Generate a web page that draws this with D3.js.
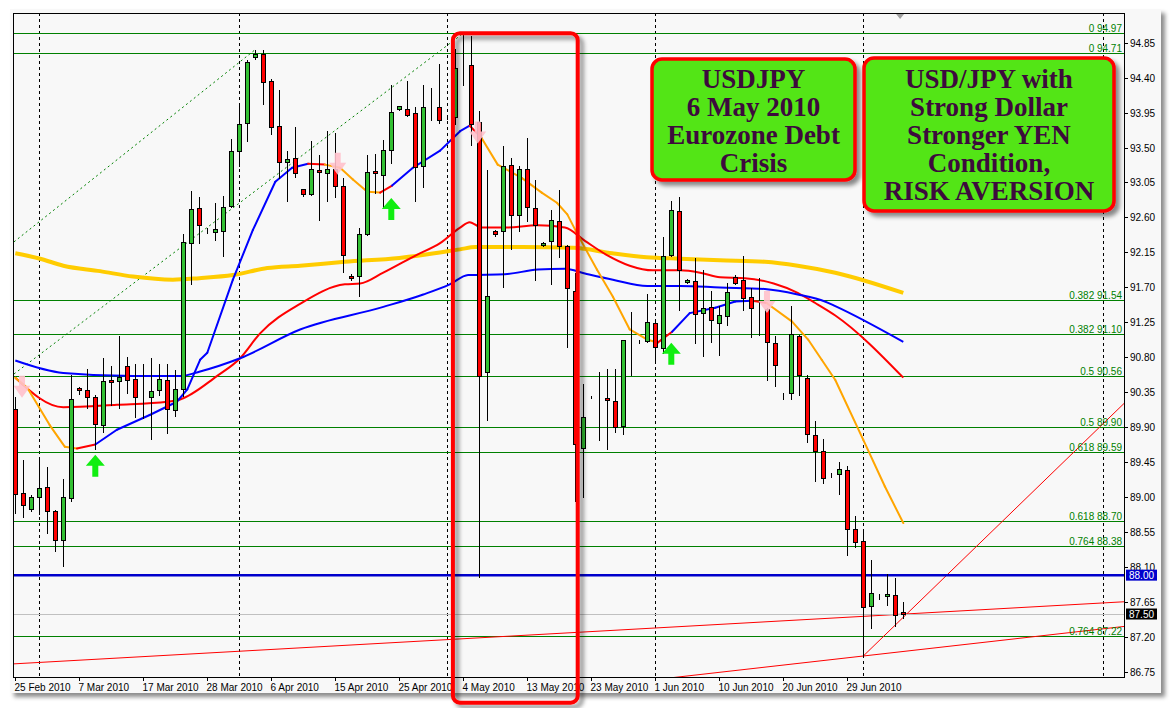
<!DOCTYPE html>
<html><head><meta charset="utf-8">
<script src="https://cdn.jsdelivr.net/npm/d3@7"></script>
<style>
html,body{margin:0;padding:0;background:#fff;}
svg{display:block;}
</style></head><body>
<svg id="chart" width="1173" height="708"></svg>
<script>
// ---------------- DATA ----------------
const xTickLabels = ["25 Feb 2010","7 Mar 2010","17 Mar 2010","28 Mar 2010","6 Apr 2010","15 Apr 2010","25 Apr 2010","4 May 2010","13 May 2010","23 May 2010","1 Jun 2010","10 Jun 2010","20 Jun 2010","29 Jun 2010"];
const xTickBars = [0,8,16,24,32,40,48,56,64,72,80,88,96,104];
const monthSepBars = [3,28,54,80,106,136];
const yTickLabels = ["94.85","94.40","93.95","93.50","93.05","92.60","92.15","91.70","91.25","90.80","90.35","89.90","89.45","89.00","88.55","88.10","87.65","87.20","86.75"];

const open = [90.14,89.06,88.85,89.01,89.14,88.82,88.45,88.99,90.41,90.38,
90.29,89.93,90.51,90.50,90.69,90.52,90.29,90.29,90.38,90.51,
90.12,90.39,92.27,92.72,92.43,92.41,92.43,92.75,93.45,93.81,
94.67,94.70,94.36,93.78,93.31,93.36,92.96,92.90,93.21,93.17,
93.23,93.00,91.85,91.85,92.39,93.20,93.15,93.47,93.99,94.00,
93.95,93.26,94.03,94.02,93.89,93.89,94.52,94.56,93.83,90.61,
92.43,92.42,93.27,92.63,93.22,92.72,92.24,92.30,92.55,92.23,
91.66,89.64,90.29,90.29,90.28,90.24,89.92,91.04,91.00,91.01,
91.24,90.92,92.12,92.68,91.77,91.78,91.37,91.45,91.24,91.33,
91.84,91.79,91.58,91.44,91.42,90.99,90.30,90.34,91.08,90.54,
89.80,89.60,89.32,89.30,89.35,88.59,88.44,87.60,87.73,87.73,
87.75,87.53];
const high = [90.29,89.48,89.03,89.51,89.39,88.84,89.24,90.58,90.42,90.65,
90.32,90.79,90.69,91.07,90.81,90.72,90.71,90.79,90.71,90.71,
90.64,92.39,92.94,92.86,92.47,92.78,92.88,93.61,94.06,94.62,
94.76,94.76,94.38,94.24,93.46,93.77,92.97,93.59,93.41,93.71,
93.69,93.11,91.87,92.46,93.40,93.42,93.60,94.30,94.04,94.35,
94.02,94.30,94.26,94.58,93.91,94.77,94.97,94.93,93.97,93.21,
92.44,93.52,93.37,93.26,93.62,93.08,92.28,92.69,92.95,92.24,
91.88,90.46,90.30,90.61,90.65,90.65,91.03,91.39,91.02,91.61,
91.26,92.35,92.81,92.86,91.81,92.08,91.92,91.65,91.46,91.76,
91.86,92.11,91.69,91.82,91.43,91.07,90.34,91.46,91.09,90.57,
89.98,89.75,89.32,89.45,89.41,88.76,88.59,88.20,87.76,88.01,
87.96,87.66];
const low = [88.80,88.75,88.83,88.78,88.54,88.31,88.12,88.95,90.33,90.15,
89.62,89.84,90.19,90.15,90.34,90.04,90.02,89.75,90.32,89.83,
90.05,90.30,91.74,92.27,92.40,92.31,92.11,92.73,93.26,93.59,
94.64,94.06,93.67,93.11,92.81,93.12,92.87,92.89,92.57,92.81,
92.86,91.90,91.80,91.59,92.38,92.92,92.72,93.30,93.98,93.90,
92.81,92.99,93.85,93.82,93.87,93.80,94.31,93.53,87.97,89.99,
92.36,91.71,92.19,92.43,92.56,91.79,92.23,91.75,92.09,90.93,
88.95,89.00,90.28,89.74,89.62,89.84,89.81,90.58,90.98,91.00,
90.75,90.86,92.10,91.41,91.76,90.98,90.82,91.00,90.83,91.22,
91.74,91.41,91.06,91.09,90.51,90.43,90.26,90.27,90.32,89.71,
89.21,89.19,89.26,89.05,88.26,88.36,86.96,87.32,87.69,87.62,
87.34,87.45];
const close = [89.04,88.90,89.01,89.12,88.83,88.45,89.00,90.27,90.38,90.29,
89.94,90.50,90.48,90.55,90.51,90.29,90.29,90.37,90.52,90.14,
90.39,92.28,92.71,92.50,92.43,92.45,92.73,93.45,93.80,94.60,
94.70,94.34,93.76,93.32,93.35,93.17,92.90,93.23,93.18,93.23,
93.01,92.12,91.82,92.39,93.19,93.17,93.47,93.96,94.03,93.92,
93.25,94.02,94.03,93.85,93.89,94.52,94.52,93.80,90.56,91.59,
92.39,93.26,92.63,93.22,92.74,92.50,92.27,92.57,92.23,91.69,
89.69,90.03,90.29,90.29,90.25,89.91,91.02,91.04,91.00,91.25,
90.94,92.10,92.69,91.92,91.80,91.36,91.44,91.28,91.35,91.64,
91.76,91.56,91.44,91.44,91.00,90.70,90.30,91.10,90.57,89.81,
89.60,89.25,89.32,89.37,88.59,88.43,87.59,87.77,87.73,87.76,
87.49,87.50];

// long moving average (gold)
const maLongBars = [0,3.1,6,10.6,14.7,19.7,23,27.2,31.5,35.6,41.2,48,55.6,57.5,63.3,69.8,74.6,78.9,83.1,88.1,93.7,97.8,102.5,111];
const maLongVals = [92.14,92.07,91.98,91.91,91.84,91.80,91.82,91.86,91.95,91.98,92.03,92.08,92.19,92.22,92.22,92.21,92.14,92.09,92.07,92.05,92.03,91.98,91.89,91.63];
// medium moving average (red)
const maMidBars = [0,6,12.7,19,20.6,25.2,28.1,30.6,35.6,41.2,43.1,46,50.2,53.1,55.6,56.8,58.3,61.2,65.3,68.7,71.2,73.9,76.8,79.7,83.1,85.6,88.1,91.2,94.8,97.8,100,102.5,111];
const maMidVals = [90.54,90.16,90.19,90.23,90.26,90.56,90.79,91.11,91.49,91.74,91.75,91.89,92.12,92.27,92.47,92.54,92.47,92.47,92.50,92.47,92.30,92.12,91.98,91.92,91.92,91.89,91.83,91.82,91.75,91.63,91.50,91.34,90.54];
// slow moving average (blue)
const maSlowBars = [0,6,14.7,20.6,23.1,28.1,35.6,46,51,54.3,56.6,61.2,65.3,68.7,71.2,74.7,79,83.1,88.1,93.7,97.8,101.2,102.5,111];
const maSlowVals = [90.76,90.60,90.56,90.56,90.62,90.79,91.16,91.45,91.61,91.74,91.86,91.87,91.93,91.94,91.88,91.80,91.72,91.72,91.70,91.68,91.61,91.52,91.46,91.00];
// fast colour-changing moving average
const maFastBars = [0,1.5,4.3,6.2,7.7,10,12.7,16.8,20.2,21.5,23.1,24,27.2,29.7,32.5,34.6,36.6,38.7,40.6,42.2,44,45.6,47.1,49.7,53.1,55.6,56.8,58.3,60.3,63.3,65.8,67.7,69,70.3,72.7,74.7,76.8,79,80.3,82.1,84.3,87.5,90,92.1,93.9,97.1,99.1,100.8,102.5,106,108.7,111];
const maFastVals = [90.54,90.41,89.93,89.65,89.63,89.68,89.87,90.06,90.23,90.39,90.77,90.86,91.80,92.44,93.06,93.24,93.29,93.28,93.24,93.09,92.93,92.92,93.01,93.24,93.46,93.71,93.78,93.62,93.28,93.11,92.92,92.79,92.64,92.38,91.93,91.58,91.16,91.03,90.99,91.13,91.37,91.44,91.52,91.53,91.50,91.26,91.03,90.77,90.51,89.74,89.14,88.67];

// signal arrows
const sigBars = [0.84,40.3,57.8,93.96,10,47,82];
const sigPrices = [90.28,93.15,93.55,91.37,89.55,92.85,90.99];
const sigTypes = ["sell","sell","sell","sell","buy","buy","buy"];

// fibonacci levels
const fibRatios = ["0","0","0.382","0.382","0.5","0.5","0.618","0.618","0.764","0.764"];
const fibPrices = [94.97,94.71,91.54,91.10,90.56,89.90,89.59,88.70,88.38,87.22];

// trend lines (bar, price anchors)
const trendB1 = [0,106,106];
const trendP1 = [86.86,86.96,86.96];
const trendB2 = [106,136,136];
const trendP2 = [87.47,87.31,89.95];
const trendMode = ["both","both","right"];

// channel (dotted) lines
const chanB1 = [0,0];
const chanP1 = [92.30,90.60];
const chanB2 = [30,56];
const chanP2 = [94.76,94.97];

const supportLevel = 88.00;
const bidPrice = 87.50;

const box1Lines = ["USDJPY","6 May 2010","Eurozone Debt","Crisis"];
const box2Lines = ["USD/JPY with","Strong Dollar","Stronger YEN","Condition,","RISK AVERSION"];
const highlight = {b1:54.7, b2:70.3, p1:94.97, p2:86.36};

// ---------------- DRAW ----------------
const svg = d3.select("#chart");
const P = {l:14, r:1124, t:13, b:677};
const x = d3.scaleLinear().domain([0,136]).range([15.3,1103.3]);
const y = d3.scaleLinear().domain([86.69,95.23]).range([P.b,P.t]);
const FONT = "'Liberation Sans', Arial, sans-serif";

const defs = svg.append("defs");
const f = defs.append("filter").attr("id","shadow").attr("x","-10%").attr("y","-10%").attr("width","130%").attr("height","130%");
f.append("feDropShadow").attr("dx",4).attr("dy",4).attr("stdDeviation",2).attr("flood-color","#000").attr("flood-opacity",0.45);
defs.append("clipPath").attr("id","clip").append("rect").attr("x",P.l).attr("y",P.t).attr("width",P.r-P.l).attr("height",P.b-P.t);

// panel
svg.append("rect").attr("x",0).attr("y",0).attr("width",1173).attr("height",708).attr("fill","#ffffff");
svg.append("rect").attr("x",10).attr("y",9).attr("width",1151).attr("height",684).attr("fill","#f8f8f8").attr("filter","url(#shadow)");

const gp = svg.append("g").attr("clip-path","url(#clip)");

// month separators
gp.selectAll(".sep").data(monthSepBars).enter().append("line")
  .attr("x1",d=>Math.round(x(d))+0.5).attr("x2",d=>Math.round(x(d))+0.5)
  .attr("y1",P.t).attr("y2",P.b).attr("stroke","#000").attr("stroke-width",1).attr("stroke-dasharray","3,3");

// fib lines
fibPrices.forEach((p,i)=>{
  const yy = Math.round(y(p))+0.5;
  gp.append("line").attr("x1",P.l).attr("x2",P.r).attr("y1",yy).attr("y2",yy).attr("stroke","#008000").attr("stroke-width",1);
  svg.append("text").attr("x",P.r-2).attr("y",yy-2).attr("text-anchor","end")
    .attr("font-family",FONT).attr("font-size",10).attr("fill","#008000").text(fibRatios[i]+" "+p.toFixed(2));
});

// channel lines
chanB1.forEach((b,i)=>{
  const s=(chanP2[i]-chanP1[i])/(chanB2[i]-b);
  const bStart = x.invert(P.l);
  gp.append("line").attr("x1",x(bStart)).attr("y1",y(chanP1[i]+s*(bStart-b)))
    .attr("x2",x(chanB2[i])).attr("y2",y(chanP2[i]))
    .attr("stroke","#008000").attr("stroke-width",1).attr("stroke-dasharray","2,3");
});

// moving averages
const lineGen = d3.line().x(d=>x(d[0])).y(d=>y(d[1])).curve(d3.curveMonotoneX);
const zip = (a,b)=>a.map((v,i)=>[v,b[i]]);
gp.append("path").attr("d",lineGen(zip(maLongBars,maLongVals))).attr("fill","none").attr("stroke","#ffcc00").attr("stroke-width",4);
gp.append("path").attr("d",lineGen(zip(maMidBars,maMidVals))).attr("fill","none").attr("stroke","#ff0000").attr("stroke-width",2);
gp.append("path").attr("d",lineGen(zip(maSlowBars,maSlowVals))).attr("fill","none").attr("stroke","#0000ff").attr("stroke-width",2);

// fast MA segments coloured by direction
let prevDir = null;
for(let i=0;i<maFastBars.length-1;i++){
  const dir = Math.sign(maFastVals[i+1]-maFastVals[i]);
  let col = dir>0 ? "#0000ff" : "#ffa500";
  if(prevDir!==null && dir!==prevDir) col = "#ff0000";
  prevDir = dir;
  gp.append("line").attr("x1",x(maFastBars[i])).attr("y1",y(maFastVals[i]))
    .attr("x2",x(maFastBars[i+1])).attr("y2",y(maFastVals[i+1]))
    .attr("stroke",col).attr("stroke-width",2).attr("stroke-linecap","round");
}

// trend lines
trendB1.forEach((b,i)=>{
  const s=(trendP2[i]-trendP1[i])/(trendB2[i]-b);
  const bL = trendMode[i]==="both" ? x.invert(P.l) : b;
  const bR = x.invert(P.r);
  gp.append("line").attr("x1",x(bL)).attr("y1",y(trendP1[i]+s*(bL-b)))
    .attr("x2",x(bR)).attr("y2",y(trendP1[i]+s*(bR-b)))
    .attr("stroke","#ff0000").attr("stroke-width",1);
});

// support & bid lines
gp.append("line").attr("x1",P.l).attr("x2",P.r).attr("y1",y(supportLevel)).attr("y2",y(supportLevel)).attr("stroke","#0000cc").attr("stroke-width",2.5);
gp.append("line").attr("x1",P.l).attr("x2",P.r).attr("y1",Math.round(y(bidPrice))+0.5).attr("y2",Math.round(y(bidPrice))+0.5).attr("stroke","#c0c0c0").attr("stroke-width",1);

// candles
const gc = gp.append("g");
open.forEach((o,i)=>{
  const c = Math.round(x(i)-0.5), cx=c+0.5;
  const h=high[i], l=low[i], cl=close[i];
  gc.append("line").attr("x1",cx).attr("x2",cx).attr("y1",Math.round(y(h))).attr("y2",Math.round(y(l))+1).attr("stroke","#000").attr("stroke-width",1);
  const t=Math.round(y(Math.max(o,cl))), bt=Math.round(y(Math.min(o,cl)));
  const fill = cl>o ? "#33c033" : (cl<o ? "#ff0000" : "#000");
  gc.append("rect").attr("x",c-1.5).attr("y",t+0.5).attr("width",4).attr("height",Math.max(0,bt-t))
    .attr("fill",fill).attr("stroke","#000").attr("stroke-width",1);
});

// arrows
sigBars.forEach((b,i)=>{
  const px=x(b), py=y(sigPrices[i]);
  if(sigTypes[i]==="buy"){
    const pts=[[0,0],[9.5,11],[3,11],[3,22],[-3,22],[-3,11],[-9.5,11]];
    svg.append("polygon").attr("points",pts.map(p=>[px+p[0],py+p[1]].join(",")).join(" ")).attr("fill","#11ee11");
  } else {
    const pts=[[0,0],[8.5,-12],[3,-12],[3,-22],[-3,-22],[-3,-12],[-8.5,-12]];
    svg.append("polygon").attr("points",pts.map(p=>[px+p[0],py+p[1]].join(",")).join(" ")).attr("fill","#ffc0cb").attr("opacity",0.9);
  }
});

// chart shift marker
svg.append("polygon").attr("points",[[x(110.6)-4,P.t+1],[x(110.6)+4,P.t+1],[x(110.6),P.t+6]].map(p=>p.join(",")).join(" ")).attr("fill","#a0a0a0");

// frame & axes
svg.append("rect").attr("x",P.l-0.5).attr("y",P.t+0.5).attr("width",P.r-P.l+1).attr("height",P.b-P.t).attr("fill","none").attr("stroke","#000").attr("stroke-width",1);

yTickLabels.forEach(t=>{
  const v=parseFloat(t), yy=Math.round(y(v))+0.5;
  svg.append("line").attr("x1",P.r).attr("x2",P.r+4).attr("y1",yy).attr("y2",yy).attr("stroke","#000");
  svg.append("text").attr("x",P.r+6).attr("y",yy).attr("dy","0.35em").attr("font-family",FONT).attr("font-size",10).attr("fill","#000").text(t);
});
xTickLabels.forEach((t,i)=>{
  const xx=Math.round(x(xTickBars[i]))+0.5;
  svg.append("line").attr("x1",xx).attr("x2",xx).attr("y1",P.b).attr("y2",P.b+4).attr("stroke","#000");
  svg.append("text").attr("x",xx-1).attr("y",P.b+14).attr("font-family",FONT).attr("font-size",10).attr("fill","#000").text(t);
});

// price boxes
[[supportLevel,"#0000cd"],[bidPrice,"#000000"]].forEach(([v,col])=>{
  const yy=y(v);
  svg.append("rect").attr("x",P.r+2).attr("y",yy-5.5).attr("width",31).attr("height",11).attr("fill",col);
  svg.append("text").attr("x",P.r+5).attr("y",yy).attr("dy","0.35em").attr("font-family",FONT).attr("font-size",10).attr("fill","#fff").text(v.toFixed(2));
});

// annotation boxes
function noteBox(x0,y0,w,h,lines,baseline0){
  svg.append("rect").attr("x",x0).attr("y",y0).attr("width",w).attr("height",h).attr("rx",10)
    .attr("fill","#52e517").attr("stroke","#ff0000").attr("stroke-width",3.5).attr("filter","url(#shadow)");
  lines.forEach((s,i)=>{
    svg.append("text").attr("x",x0+w/2).attr("y",baseline0+i*28).attr("text-anchor","middle")
      .attr("font-family","'Liberation Serif','Times New Roman',serif").attr("font-weight","bold").attr("font-size",27)
      .attr("fill","#3d0a3d").text(s);
  });
}
noteBox(652,59,203,121,box1Lines,88);
noteBox(864,58,250,153,box2Lines,88);

// highlight box
svg.append("rect").attr("x",x(highlight.b1)).attr("y",y(highlight.p1)).attr("width",x(highlight.b2)-x(highlight.b1))
  .attr("height",y(highlight.p2)-y(highlight.p1)).attr("rx",7).attr("fill","none").attr("stroke","#ff0000").attr("stroke-width",4).attr("filter","url(#shadow)");
</script>
</body></html>
